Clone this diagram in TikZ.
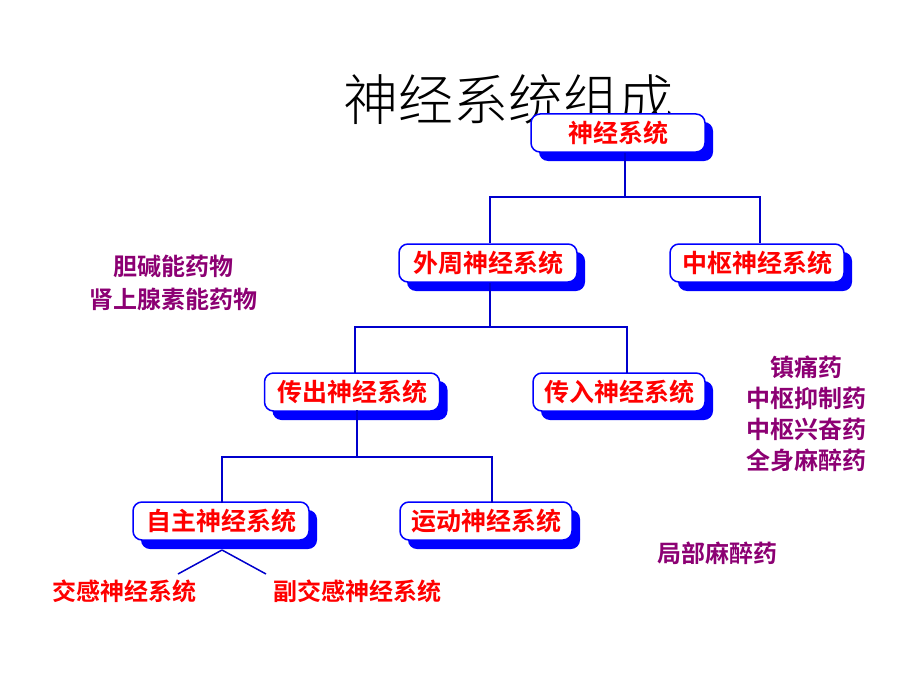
\documentclass[tikz,border=0pt]{standalone}
\usepackage{fontspec}
\setmainfont{Noto Sans CJK SC}[BoldFont={* Bold}]
\newfontfamily\titlefont{Noto Sans CJK SC}[UprightFont={* Light}]
\begin{document}
\begin{tikzpicture}[x=1pt,y=-1pt,
 box/.style={draw=blue,line width=1.5pt,fill=white,rounded corners=9pt,minimum height=38pt},
 bt/.style={text=red,font=\fontsize{25}{27}\selectfont\bfseries},
 lnk/.style={draw=blue!80!black,line width=1.5pt},
 pur/.style={text=violet!80!purple,font=\fontsize{24}{26}\selectfont\bfseries},
 rd/.style={text=red,font=\fontsize{24}{26}\selectfont\bfseries}]
\useasboundingbox (0,0) rectangle (920,690);
\fill[white] (0,0) rectangle (920,690);
\node[font=\fontsize{55}{58}\titlefont] (title) at (508,100) {神经系统组成};
\def\mk#1#2#3#4{\fill[blue,rounded corners=9pt] (#2-#4/2+8,#3-11) rectangle (#2+#4/2+8,#3+28);\node[box,minimum width=#4pt] (#1) at (#2,#3) {\strut};}
\mk{s}{618}{133}{174}
\mk{w}{488}{263}{178}
\mk{z}{757}{263}{174}
\mk{c}{352}{392}{175}
\mk{r}{619}{392}{172}
\mk{a}{221}{521}{176}
\mk{y}{486}{521}{172}
\draw[lnk] (625,153) -- (625,197) coordinate(j1) (490,243) |- (j1) -| (760,243);
\draw[lnk] (490,283) -- (490,327) coordinate(j2) (355,373) |- (j2) -| (627,373);
\draw[lnk] (357,410) -- (357,457) coordinate(j3) (222,503) |- (j3) -| (492,503);
\coordinate (ab) at (222,550);
\node[rd] (jg) at (124,591) {交感神经系统};
\node[rd] (fjg) at (357,591) {副交感神经系统};
\draw[lnk] (ab) -- (178,574) (ab) -- (266,574);
\foreach \n/\t in {s/神经系统,w/外周神经系统,z/中枢神经系统,c/传出神经系统,r/传入神经系统,a/自主神经系统,y/运动神经系统}
 \node[bt] at (\n) {\t};
\node[pur] (p1) at (173,266) {胆碱能药物};
\node[pur] (p2) at (173,299) {肾上腺素能药物};
\node[pur] (q1) at (806,367) {镇痛药};
\node[pur] (q2) at (806,398) {中枢抑制药};
\node[pur] (q3) at (806,429) {中枢兴奋药};
\node[pur] (q4) at (806,460) {全身麻醉药};
\node[pur] (q5) at (717,553) {局部麻醉药};
\end{tikzpicture}
\end{document}
